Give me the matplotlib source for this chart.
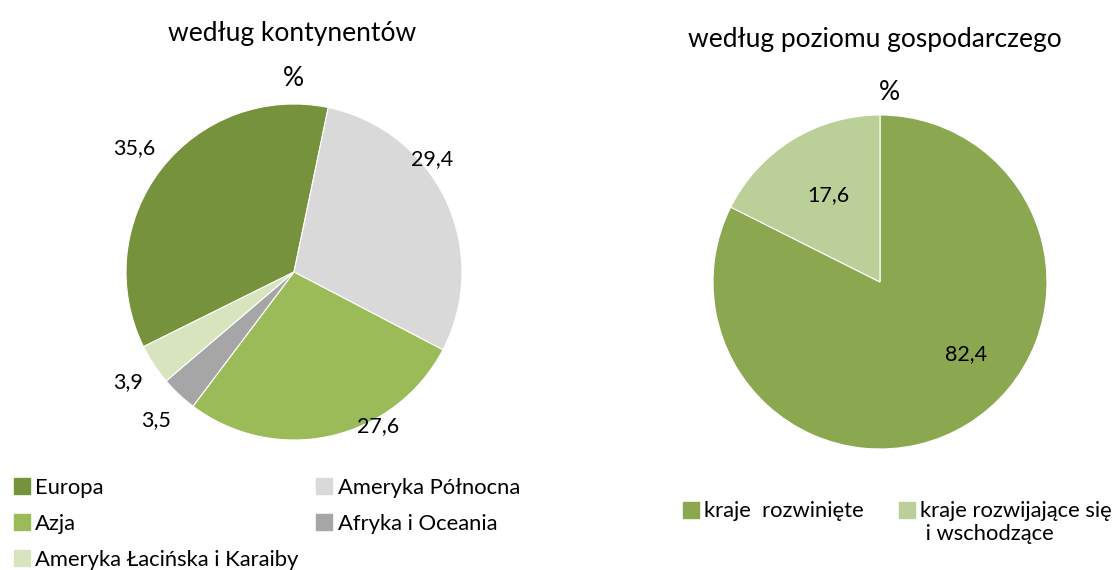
import matplotlib.pyplot as plt
from matplotlib.patches import Patch, Rectangle
from matplotlib.legend_handler import HandlerPatch

plt.rcParams['font.family'] = ['Lato', 'DejaVu Sans']

# Data
continents = ['Europa', 'Ameryka Północna', 'Azja', 'Afryka i Oceania',
              'Ameryka Łacińska i Karaiby']
continent_share = [35.6, 29.4, 27.6, 3.5, 3.9]
continent_colors = ['#76923C', '#D9D9D9', '#9BBB59', '#A6A6A6', '#D7E4BD']

levels = ['kraje  rozwinięte\n', 'kraje rozwijające się\n i wschodzące']
level_share = [82.4, 17.6]
level_colors = ['#8BA750', '#BBCF98']

# label positions in pie units
continent_label_pos = [(-0.95, 0.74), (0.82, 0.67), (0.50, -0.92),
                       (-0.82, -0.88), (-0.99, -0.655)]
level_label_pos = [(0.515, -0.43), (-0.31, 0.52)]

W, H = 1116, 570
fig = plt.figure(figsize=(W / 100, H / 100), dpi=100)


def px_axes(cx, cy, r):
    return fig.add_axes([(cx - r) / W, (H - cy - r) / H, 2 * r / W, 2 * r / H])


def fmt(v):
    return f'{v:.1f}'.replace('.', ',')


# Left pie
ax1 = px_axes(294, 272, 168)
ax1.pie(continent_share, colors=continent_colors, startangle=206.4,
        counterclock=False, wedgeprops=dict(edgecolor='white', linewidth=0.8))
for v, (x, y) in zip(continent_share, continent_label_pos):
    ax1.text(x, y, fmt(v), ha='center', va='center', fontsize=15.5)
ax1.set_xlim(-1, 1)
ax1.set_ylim(-1, 1)
ax1.axis('off')

# Right pie
ax2 = px_axes(880, 282, 167)
ax2.pie(level_share, colors=level_colors, startangle=90,
        counterclock=False, wedgeprops=dict(edgecolor='white', linewidth=0.8))
for v, (x, y) in zip(level_share, level_label_pos):
    ax2.text(x, y, fmt(v), ha='center', va='center', fontsize=15.5)
ax2.set_xlim(-1, 1)
ax2.set_ylim(-1, 1)
ax2.axis('off')

# Titles
fig.text(292 / W, 1 - 33 / H, 'według kontynentów', ha='center', va='center', fontsize=19)
fig.text(293 / W, 1 - 79 / H, '%', ha='center', va='center', fontsize=19)
fig.text(875 / W, 1 - 40 / H, 'według poziomu gospodarczego', ha='center', va='center', fontsize=19)
fig.text(889 / W, 1 - 92 / H, '%', ha='center', va='center', fontsize=19)

# Legends
h1 = [Patch(color=c, label=l) for c, l in zip(continent_colors, continents)]
order = [0, 2, 4, 1, 3]
fig.legend([h1[i] for i in order], [continents[i] for i in order],
           loc='upper left', bbox_to_anchor=(14 / W, 1 - 478 / H), ncol=2,
           frameon=False, fontsize=15.8, handlelength=0.73, handleheight=0.73,
           handletextpad=0.23, columnspacing=0.82, labelspacing=0.72,
           borderpad=0, borderaxespad=0)


def top_square(legend, orig_handle, xdescent, ydescent, width, height, fontsize):
    # square next to the first line of a two-line label
    return Rectangle((-xdescent, -ydescent + 0.6 * fontsize), width, height)


h2 = [Patch(color=c, label=l) for c, l in zip(level_colors, levels)]
fig.legend(h2, levels, loc='upper left', bbox_to_anchor=(683 / W, 1 - 501 / H),
           ncol=2, frameon=False, fontsize=15.8, handlelength=0.73,
           handleheight=0.73, handletextpad=0.23, columnspacing=1.6,
           borderpad=0, borderaxespad=0,
           handler_map={Patch: HandlerPatch(patch_func=top_square)})

fig.savefig('out.png', dpi=100)
